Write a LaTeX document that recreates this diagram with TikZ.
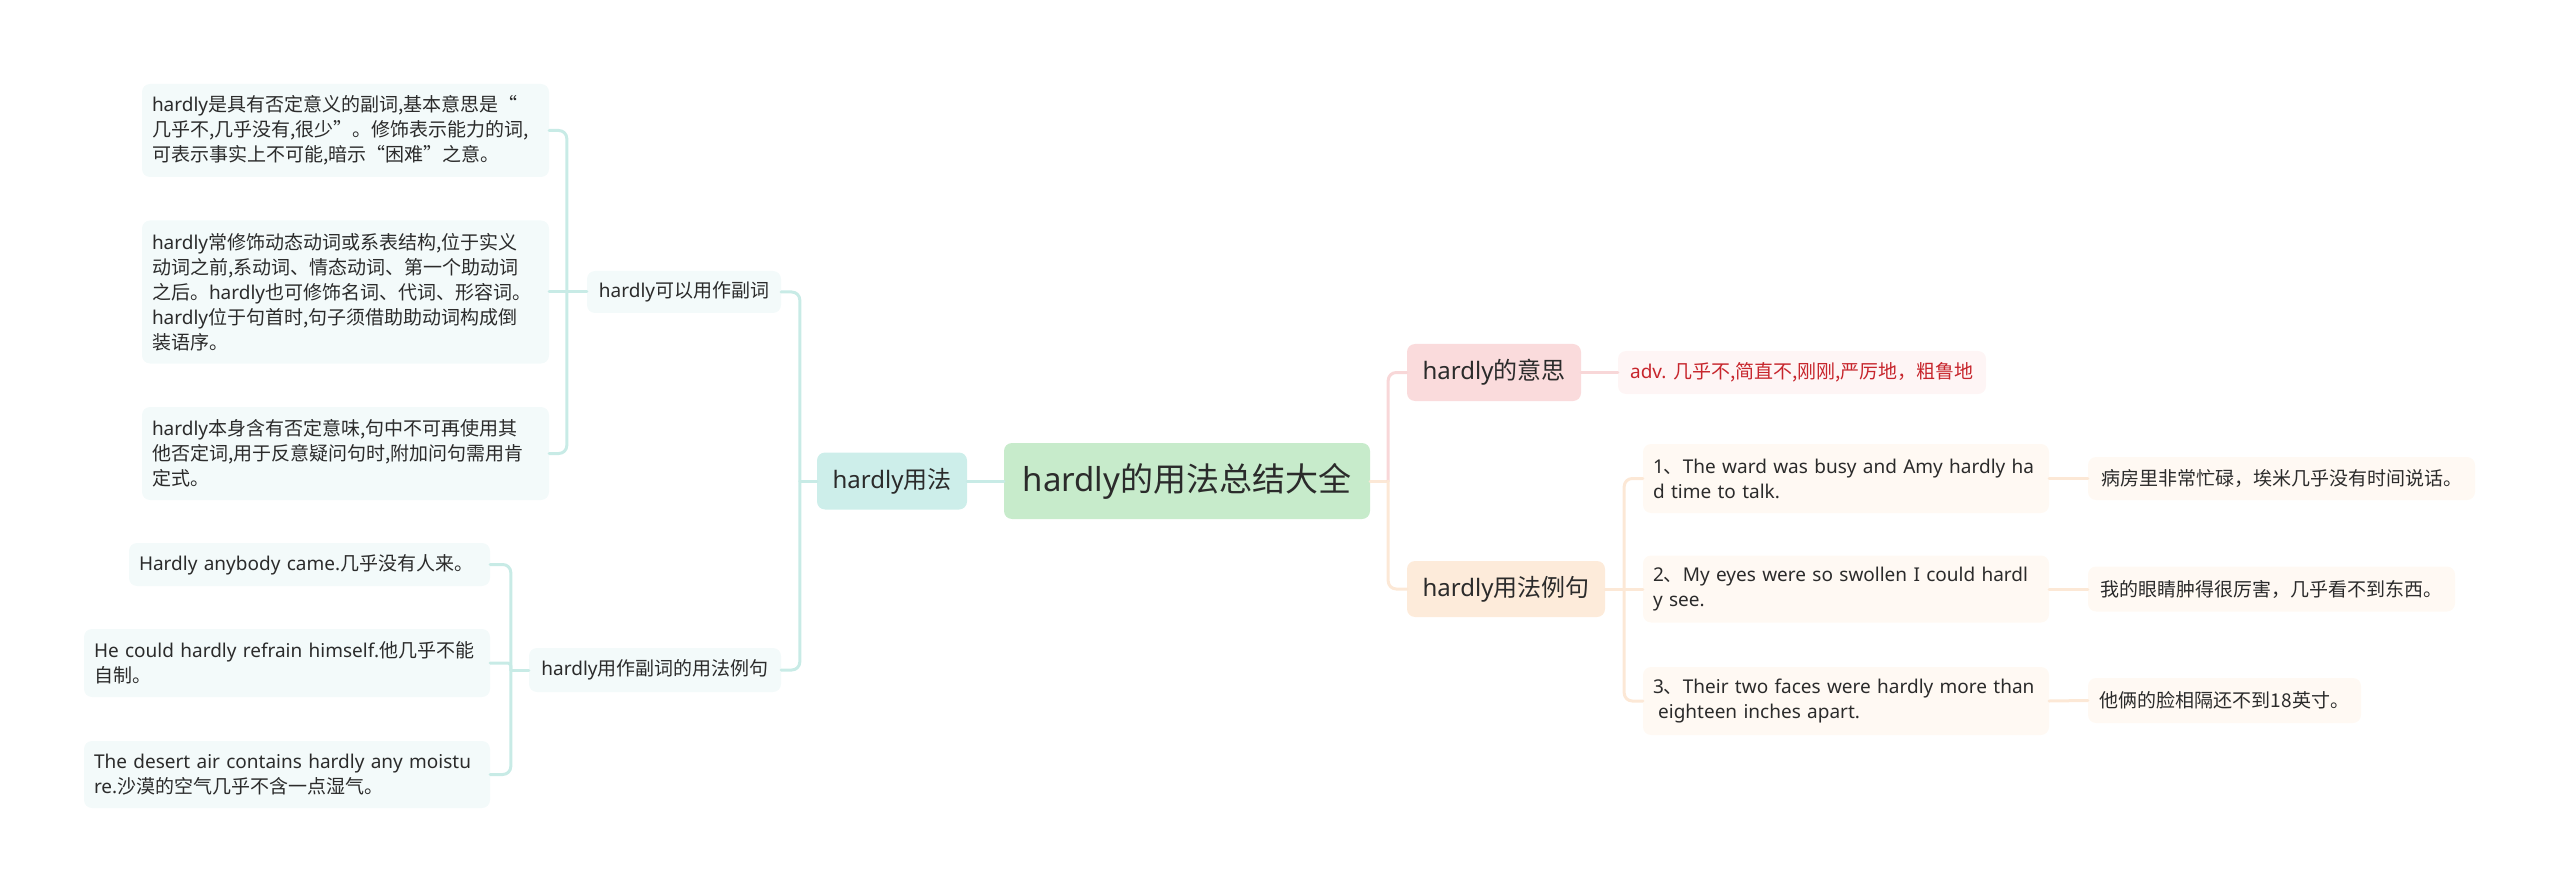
\documentclass[tikz,border=0pt]{standalone}
\usepackage{fontspec}
\setmainfont{Noto Sans}
\newfontfamily\cjk{Noto Sans CJK SC}
\usepackage{xcolor}
\definecolor{rootfill}{HTML}{C7EBCB}
\definecolor{tealfill}{HTML}{CDEEEA}
\definecolor{tealline}{HTML}{C8EBE6}
\definecolor{tealleaf}{HTML}{F3FAFA}
\definecolor{pinkfill}{HTML}{FADBDC}
\definecolor{pinkline}{HTML}{F8D7D8}
\definecolor{pinkleaf}{HTML}{FEF5F5}
\definecolor{advred}{HTML}{C7252C}
\definecolor{peachfill}{HTML}{FDEBDA}
\definecolor{peachline}{HTML}{FCE8D6}
\definecolor{peachleaf}{HTML}{FFF9F3}
\definecolor{ink}{HTML}{2B2B2B}
\tikzset{
  every picture/.style={line join=round, line cap=round},
  box/.style={rounded corners=8, inner xsep=10, inner ysep=6, text=ink},
  rootbox/.style={box, fill=rootfill, font=\fontsize{33}{40}\selectfont},
  usebox/.style={box, fill=tealfill, font=\fontsize{24}{30}\selectfont},
  meanbox/.style={box, fill=pinkfill, font=\fontsize{24}{30}\selectfont},
  samplebox/.style={box, fill=peachfill, font=\fontsize{24}{30}\selectfont},
  tealsub/.style={box, fill=tealleaf, font=\fontsize{19}{25}\selectfont},
  tealnote/.style={tealsub, align=left},
  pinknote/.style={box, fill=pinkleaf, text=advred, font=\fontsize{19}{25}\selectfont},
  peachnote/.style={box, fill=peachleaf, align=left, font=\fontsize{19}{25}\selectfont},
  tealwire/.style={draw=tealline, line width=3},
  pinkwire/.style={draw=pinkline, line width=3},
  peachwire/.style={draw=peachline, line width=3},
}

\begin{document}
\begin{tikzpicture}[x=1pt,y=-1pt]
\useasboundingbox (0,0) rectangle (2560,893);
\node[rootbox,minimum width=366,minimum height=76] (root) at (1187,481) {hardly{\cjk 的用法总结大全}};
\node[usebox,minimum width=150,minimum height=57] (usage) at (892,481) {hardly{\cjk 用法}};
\node[meanbox,minimum width=174,minimum height=57] (meaning) at (1494,372.5) {hardly{\cjk 的意思}};
\node[samplebox,minimum width=198,minimum height=56] (sample) at (1506,589) {hardly{\cjk 用法例句}};
\node[tealsub,minimum width=194,minimum height=42] (adverb) at (684,292) {hardly{\cjk 可以用作副词}};
\node[tealsub,minimum width=252,minimum height=44] (examples) at (655,670) {hardly{\cjk 用作副词的用法例句}};
\node[tealnote,text width=387,minimum height=93] (defA) at (345.5,130.5) {hardly{\cjk 是具有否定意义的副词,基本意思是“}\\{\cjk 几乎不,几乎没有,很少”。修饰表示能力的词,}\\{\cjk 可表示事实上不可能,暗示“困难”之意。}};
\node[tealnote,text width=387,minimum height=143] (defB) at (345.5,292) {hardly{\cjk 常修饰动态动词或系表结构,位于实义}\\{\cjk 动词之前,系动词、情态动词、第一个助动词}\\{\cjk 之后。}hardly{\cjk 也可修饰名词、代词、形容词。}\\hardly{\cjk 位于句首时,句子须借助助动词构成倒}\\{\cjk 装语序。}};
\node[tealnote,text width=387,minimum height=93] (defC) at (345.5,453.5) {hardly{\cjk 本身含有否定意味,句中不可再使用其}\\{\cjk 他否定词,用于反意疑问句时,附加问句需用肯}\\{\cjk 定式。}};
\node[tealnote,text width=341,minimum height=43] (useA) at (309.5,564.5) {Hardly anybody came.{\cjk 几乎没有人来。}};
\node[tealnote,text width=386,minimum height=68] (useB) at (287,663) {He could hardly refrain himself.{\cjk 他几乎不能}\\{\cjk 自制。}};
\node[tealnote,text width=386,minimum height=67] (useC) at (287,774.5) {The desert air contains hardly any moistu\\re.{\cjk 沙漠的空气几乎不含一点湿气。}};
\node[pinknote,minimum width=368,minimum height=43] (adv) at (1802,372.5) {adv. {\cjk 几乎不,简直不,刚刚,严厉地，粗鲁地}};
\node[peachnote,text width=386,minimum height=69] (exA) at (1846,478.5) {1{\cjk 、}The ward was busy and Amy hardly ha\\d time to talk.};
\node[peachnote,text width=386,minimum height=67] (exB) at (1846,589) {2{\cjk 、}My eyes were so swollen I could hardl\\y see.};
\node[peachnote,text width=386,minimum height=68] (exC) at (1846,701) {3{\cjk 、}Their two faces were hardly more than\\\hspace*{0.27em}eighteen inches apart.};
\node[peachnote,minimum width=387,minimum height=43] (trA) at (2281.5,478.5) {\cjk 病房里非常忙碌，埃米几乎没有时间说话。};
\node[peachnote,minimum width=367,minimum height=45] (trB) at (2271.5,589) {\cjk 我的眼睛肿得很厉害，几乎看不到东西。};
\node[peachnote,minimum width=273,minimum height=45] (trC) at (2224.5,700.5) {\cjk 他俩的脸相隔还不到18英寸。};
\coordinate (usestub) at ([xshift=-17]usage.west);
\coordinate (advstub) at ([xshift=-20]adverb.west);
\coordinate (exstub) at ([xshift=-18]examples.west);
\coordinate (rootstub) at ([xshift=18]root.east);
\coordinate (samplestub) at ([xshift=19]sample.east);
\draw[tealwire] (root.west) -- (usage.east);
\draw[tealwire] (usage.west) -- (usestub);
\draw[tealwire,rounded corners=8] (usestub) |- (adverb.east);
\draw[tealwire,rounded corners=8] (usestub) |- (examples.east);
\draw[tealwire] (adverb.west) -- (defB.east);
\draw[tealwire,rounded corners=8] (advstub) |- (defA.east);
\draw[tealwire,rounded corners=8] (advstub) |- (defC.east);
\draw[tealwire] (examples.west) -- (exstub);
\draw[tealwire,rounded corners=8] (exstub) |- (useA.east);
\draw[tealwire,rounded corners=3] (exstub) |- (useB.east);
\draw[tealwire,rounded corners=8] (exstub) |- (useC.east);
\draw[peachwire] (root.east) -- (rootstub);
\draw[pinkwire,rounded corners=8] (rootstub) |- (meaning.west);
\draw[peachwire,rounded corners=8] (rootstub) |- (sample.west);
\draw[pinkwire] (meaning.east) -- (adv.west);
\draw[peachwire] (sample.east) -- (exB.west);
\draw[peachwire,rounded corners=8] (samplestub) |- (exA.west);
\draw[peachwire,rounded corners=8] (samplestub) |- (exC.west);
\draw[peachwire] (exA.east) -- (trA.west);
\draw[peachwire] (exB.east) -- (trB.west);
\draw[peachwire] (exC.east) -- (trC.west);
\end{tikzpicture}
\end{document}
